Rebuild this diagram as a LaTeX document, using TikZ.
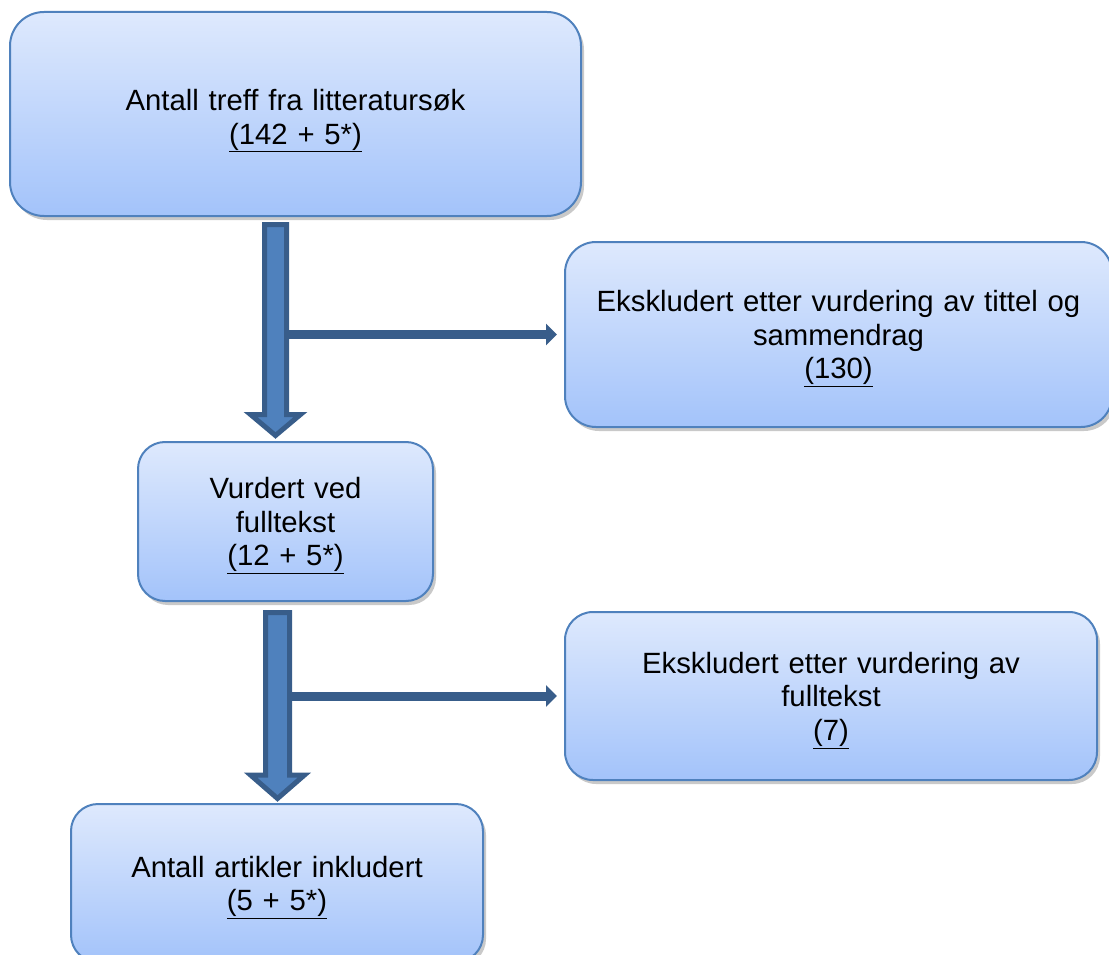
\documentclass[tikz,border=0pt]{standalone}
\usepackage{fontspec}
\setmainfont{Liberation Sans}
\usetikzlibrary{positioning, calc, shadows, arrows.meta}

\definecolor{boxtop}{RGB}{222,233,253}
\definecolor{boxbottom}{RGB}{163,195,250}
\definecolor{boxline}{RGB}{79,129,189}
\definecolor{flowfill}{RGB}{79,129,189}
\definecolor{flowline}{RGB}{56,93,138}

\begin{document}
\begin{tikzpicture}[
mybox/.style={rectangle,
  draw=boxline,
  line width=2pt,
  top color=boxtop,
  bottom color=boxbottom,
  drop shadow={shadow xshift=3pt, shadow yshift=-4pt, opacity=0.3, fill=black!70},
  inner sep=0pt,
  outer sep=0pt,
  align=center,
  font=\fontsize{29.3pt}{33.5pt}\selectfont,
},
myflow/.style={fill=flowfill, draw=flowline, line width=5pt, line join=miter},
myline/.style={draw=flowline, line width=9pt, -{Triangle[width=21pt, length=11pt]}, shorten >=8pt},
]
\useasboundingbox (0,0) rectangle (1109pt,-955pt);
\clip (0,0) rectangle (1109pt,-955pt);

\node[mybox, minimum width=571pt, minimum height=204pt, text width=531pt, rounded corners=34pt, anchor=north west] (search)
    at (10pt,-12pt) {\rule{0pt}{35pt}Antall treff fra litteratursøk\\\underline{(142 + 5*)}};
\node[mybox, minimum width=295pt, minimum height=159pt, text width=265pt, rounded corners=27pt, below right=226pt and 128pt of search.south west] (fulltext)
    {\rule{0pt}{30pt}Vurdert ved\\fulltekst\\\underline{(12 + 5*)}};
\node[mybox, minimum width=412pt, minimum height=158pt, text width=372pt, rounded corners=27pt, below right=203pt and -67pt of fulltext.south west] (included)
    {\rule{0pt}{30pt}Antall artikler inkludert\\\underline{(5 + 5*)}};
\node[mybox, minimum width=547pt, minimum height=185pt, text width=507pt, rounded corners=31pt, below right=26pt and -16pt of search.south east] (excl1)
    {\rule{0pt}{30pt}Ekskludert etter vurdering av tittel og\\sammendrag\\\underline{(130)}};
\node[mybox, minimum width=532pt, minimum height=168pt, text width=492pt, rounded corners=28pt, below right=185pt and 0pt of excl1.south west] (excl2)
    {\rule{0pt}{30pt}Ekskludert etter vurdering av\\fulltekst\\\underline{(7)}};

\coordinate (top1) at ([xshift=-20pt,yshift=-8.5pt]search.south);
\coordinate (tip1) at ([xshift=-10pt,yshift=6.5pt]fulltext.north);
\coordinate (top2) at ([xshift=-8pt,yshift=-11.5pt]fulltext.south);
\coordinate (tip2) at ($(top2 |- included.north)+(0,5.5pt)$);

\draw[myline] (top1 |- excl1.west) -- (excl1.west);
\draw[myline] (top2 |- excl2.west) -- (excl2.west);

\draw[myflow] let \p1=(top1), \p2=(tip1) in
  (\x1-11pt,\y1) -- (\x1+11pt,\y1) -- (\x1+11pt,\y2+21pt) -- (\x1+25pt,\y2+21pt) -- (\x1,\y2) -- (\x1-25pt,\y2+21pt) -- (\x1-11pt,\y2+21pt) -- cycle;
\draw[myflow] let \p1=(top2), \p2=(tip2) in
  (\x1-12pt,\y1) -- (\x1+12pt,\y1) -- (\x1+12pt,\y2+23.5pt) -- (\x1+27pt,\y2+23.5pt) -- (\x1,\y2) -- (\x1-27pt,\y2+23.5pt) -- (\x1-12pt,\y2+23.5pt) -- cycle;
\end{tikzpicture}
\end{document}
